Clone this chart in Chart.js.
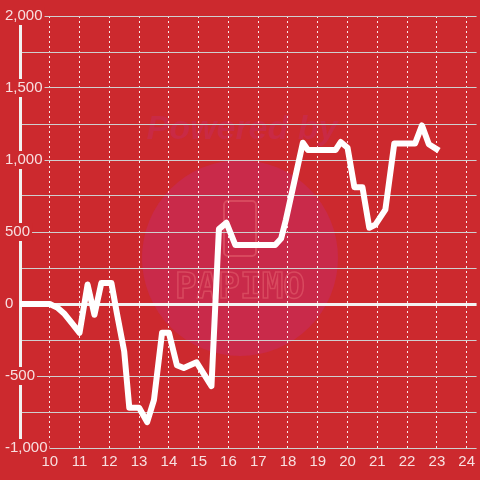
<!DOCTYPE html>
<html>
<head>
<meta charset="utf-8">
<script src="https://cdn.jsdelivr.net/npm/chart.js@4"></script>
<style>
  html, body { margin: 0; padding: 0; background: #cc292e; }
  #wrap { width: 480px; height: 480px; }
</style>
</head>
<body>
<div id="wrap"><canvas id="myLineChart"></canvas></div>
<script>
// hour of day and value
var times  = [9, 10, 10.25, 10.5, 10.75, 11, 11.27, 11.5, 11.73, 12.07, 12.25, 12.5, 12.67, 13, 13.27, 13.5, 13.77, 14,
              14.27, 14.5, 14.93, 15.43, 15.68, 15.93, 16.23, 17.57, 17.77, 17.93, 18.5, 18.67, 19.6, 19.77, 20,
              20.23, 20.5, 20.73, 20.93, 21.27, 21.57, 22.27, 22.5, 22.73, 23.07];
var values = [0, 0, -25, -70, -135, -200, 135, -75, 145, 145, -60, -330, -720, -720, -820, -665, -200, -200,
              -425, -445, -405, -570, 520, 565, 410, 410, 455, 585, 1120, 1070, 1070, 1125, 1085,
              810, 810, 530, 550, 655, 1115, 1115, 1240, 1110, 1065];
var xTicks = [10, 11, 12, 13, 14, 15, 16, 17, 18, 19, 20, 21, 22, 23, 24];

var bgRed = '#cc292e';

// faint watermark behind the grid
var watermark = {
    id: 'watermark',
    beforeDraw: function(chart) {
        var c = chart.ctx;
        c.save();
        c.fillStyle = '#c92a4a';
        c.beginPath();
        c.arc(240, 258, 98, 0, Math.PI * 2);
        c.fill();
        c.fillStyle = '#c92a45';
        c.font = 'italic bold 34px "Liberation Sans", Arial, sans-serif';
        c.textAlign = 'center';
        c.textBaseline = 'middle';
        c.fillText('Powered by', 242, 130);
        c.strokeStyle = 'rgba(235, 110, 120, 0.45)';
        c.lineWidth = 2;
        c.beginPath();
        c.roundRect(224, 201, 32, 55, 4);
        c.stroke();
        c.font = 'bold 36px "DejaVu Sans Mono", monospace';
        c.lineWidth = 1.5;
        c.strokeText('PAPIMO', 240, 289);
        c.restore();
    }
};

var ctx = document.getElementById('myLineChart').getContext('2d');

var myLineChart = new Chart(ctx, {
    type: 'line',
    data: {
        datasets: [{
            data: times.map(function(t, i) { return { x: t, y: values[i] }; }),
            borderColor: '#ffffff',
            borderWidth: 6,
            pointRadius: 0,
            tension: 0,
            borderJoinStyle: 'round',
            fill: false
        }]
    },
    options: {
        responsive: true,
        maintainAspectRatio: false,
        animation: false,
        layout: { padding: { left: 20, top: 16, right: 0, bottom: 0 } },
        plugins: {
            legend: { display: false },
            tooltip: { enabled: false }
        },
        scales: {
            x: {
                type: 'linear',
                min: 9,
                max: 24.333,
                afterBuildTicks: function(scale) {
                    scale.ticks = xTicks.map(function(v) { return { value: v }; });
                },
                afterFit: function(scale) { scale.height = 32; },
                grid: {
                    color: 'rgba(255, 255, 255, 0.9)',
                    lineWidth: 1,
                    drawTicks: false,
                    tickLength: 0
                },
                border: { display: false, dash: [2, 3] },
                ticks: {
                    color: 'rgba(255, 255, 255, 0.85)',
                    padding: 5,
                    maxRotation: 0,
                    font: { size: 15, family: '"Liberation Sans", Arial, sans-serif' }
                }
            },
            y: {
                min: -1000,
                max: 2000,
                afterFit: function(scale) { scale.width = 0; },
                grid: {
                    color: function(c) { return c.tick && c.tick.value === 0 ? '#f2f2f2' : '#cfcfcf'; },
                    lineWidth: function(c) { return c.tick && c.tick.value === 0 ? 3 : 1; },
                    drawTicks: false,
                    tickLength: 0
                },
                border: { display: true, color: '#f2f2f2', width: 3 },
                ticks: {
                    stepSize: 250,
                    mirror: true,
                    padding: -15,
                    color: 'rgba(255, 255, 255, 0.85)',
                    font: { size: 15, family: '"Liberation Sans", Arial, sans-serif' },
                    showLabelBackdrop: function(c) { return c.tick && c.tick.value % 500 === 0; },
                    backdropColor: bgRed,
                    backdropPadding: { top: 0, bottom: 0, left: 2, right: 2 },
                    callback: function(v) { return v % 500 === 0 ? v.toLocaleString('en-US') : ''; }
                }
            }
        }
    },
    plugins: [watermark]
});
</script>
</body>
</html>
